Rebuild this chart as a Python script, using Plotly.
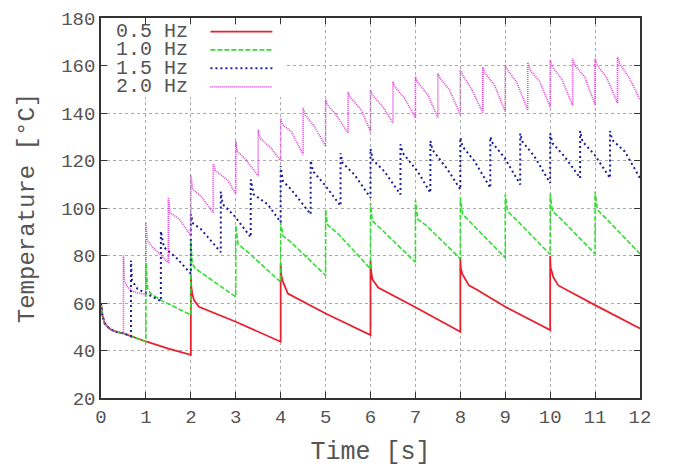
import plotly.graph_objects as go

# ---- data ----
series_names = ["0.5 Hz", "1.0 Hz", "1.5 Hz", "2.0 Hz"]

red_t = [0, 0.03, 0.08, 0.2, 0.35, 0.5, 1.0, 1.5, 2.0,
         2.0, 2.01, 2.03, 2.07, 2.18, 3.0, 4.0,
         4.0, 4.01, 4.05, 4.16, 5.0, 6.0,
         6.0, 6.01, 6.04, 6.17, 7.0, 8.0,
         8.0, 8.01, 8.04, 8.19, 8.37, 9.0, 10.0,
         10.0, 10.01, 10.07, 10.18, 11.0, 12.0]
red_T = [60, 55, 51.5, 49, 47.8, 47.2, 43.8, 40.8, 38.2,
         72, 67, 64, 61.2, 58.4, 52.1, 43.7,
         76.6, 72, 69, 64, 55.6, 46.5,
         78, 74, 70, 66.5, 58.2, 47.9,
         79.3, 75, 72.3, 67.4, 65.6, 58.4, 48.6,
         79.8, 75, 70.9, 67.4, 59.1, 49.3]

green_t = [0, 0.03, 0.08, 0.2, 0.35, 0.5, 1.0,
           1.0, 1.04, 1.1, 1.33, 2.0,
           2.0, 2.03, 2.1, 3.0,
           3.0, 3.05, 3.27, 4.0,
           4.0, 4.05, 4.23, 5.0,
           5.0, 5.04, 5.28, 6.0,
           6.0, 6.04, 6.2, 7.0,
           7.0, 7.05, 7.25, 8.0,
           8.0, 8.05, 8.23, 9.0,
           9.0, 9.05, 9.25, 10.0,
           10.0, 10.05, 10.25, 11.0,
           11.0, 11.05, 11.25, 12.0]
green_T = [60, 55, 51.5, 49, 47.8, 47.2, 43.6,
           77, 66, 64, 61.2, 55,
           86.3, 76.5, 74.5, 62.6,
           92.6, 84.9, 81.4, 68.8,
           93.9, 88.4, 85.6, 71.6,
           99.4, 93, 89.1, 74.4,
           102.2, 94.6, 91.8, 77.2,
           103.3, 95.3, 92.5, 78.6,
           104.5, 97.5, 93.9, 79,
           105.7, 98.6, 95, 80.4,
           106, 98.7, 95.2, 80.7,
           107, 99.3, 95.5, 80.7]

blue_t = [0, 0.03, 0.08, 0.2, 0.35, 0.5, 0.667,
          0.667, 0.69, 0.81, 1.03, 1.333,
          1.333, 1.40, 1.70, 2.0,
          2.0, 2.05, 2.22, 2.667,
          2.667, 2.71, 2.97, 3.333,
          3.333, 3.40, 3.71, 4.0,
          4.0, 4.05, 4.23, 4.667,
          4.667, 4.72, 4.97, 5.333,
          5.333, 5.38, 5.64, 6.0,
          6.0, 6.05, 6.31, 6.667,
          6.667, 6.72, 7.05, 7.333,
          7.333, 7.38, 7.72, 8.0,
          8.0, 8.05, 8.32, 8.667,
          8.667, 8.72, 8.99, 9.333,
          9.333, 9.38, 9.65, 10.0,
          10.0, 10.05, 10.32, 10.667,
          10.667, 10.72, 10.99, 11.333,
          11.333, 11.38, 11.66, 12.0]
blue_T = [60, 55, 51.5, 49, 47.8, 47.2, 46,
          77.9, 69.5, 66, 63.8, 60.8,
          90.2, 83.5, 78.6, 72.3,
          97.4, 93.5, 91.2, 81.4,
          106.9, 101.6, 96.7, 87.7,
          112, 105.7, 101.6, 94,
          117.6, 111.3, 107.9, 97.4,
          120, 115.4, 110, 100.9,
          123.1, 118.9, 114.1, 104.3,
          124.9, 120.3, 115.4, 105.7,
          126.8, 123.1, 115.4, 106.4,
          128.2, 124.5, 116.1, 107.8,
          129.6, 125.9, 119.6, 108.5,
          130, 127.3, 121, 109.9,
          131.4, 128, 121.7, 110.5,
          131.4, 127.3, 121.7, 112.6,
          132.4, 128, 122.4, 112.6,
          132.4, 128.7, 123.8, 112.6]

mag_t = [0, 0.03, 0.08, 0.2, 0.35, 0.5,
         0.5, 0.52, 0.59, 0.74, 1.0,
         1.0, 1.03, 1.15, 1.5,
         1.5, 1.53, 1.74, 2.0,
         2.0, 2.04, 2.22, 2.5,
         2.5, 2.54, 2.82, 3.0,
         3.0, 3.03, 3.19, 3.5,
         3.5, 3.54, 3.78, 4.0,
         4.0, 4.04, 4.23, 4.5,
         4.5, 4.54, 4.75, 5.0,
         5.0, 5.04, 5.23, 5.5,
         5.5, 5.54, 5.79, 6.0,
         6.0, 6.04, 6.27, 6.5,
         6.5, 6.54, 6.76, 7.0,
         7.0, 7.04, 7.28, 7.5,
         7.5, 7.55, 7.76, 8.0,
         8.0, 8.05, 8.24, 8.5,
         8.5, 8.55, 8.76, 9.0,
         9.0, 9.05, 9.25, 9.5,
         9.5, 9.55, 9.77, 10.0,
         10.0, 10.05, 10.25, 10.5,
         10.5, 10.55, 10.77, 11.0,
         11.0, 11.05, 11.25, 11.5,
         11.5, 11.55, 11.77, 12.0]
mag_T = [60, 55, 51.5, 49, 47.8, 47.2,
         80, 69.5, 66.7, 64.6, 63.5,
         93.9, 86.3, 83.5, 77,
         104.4, 98.1, 95.4, 88.4,
         113.9, 107.9, 105.1, 98,
         118.6, 115.9, 111.7, 106.1,
         128.1, 123.9, 121.1, 113.5,
         133, 129.5, 125.3, 120,
         137.9, 135.1, 132.3, 122.6,
         142.1, 139.3, 134.4, 126,
         145.6, 143.5, 139.3, 131.6,
         148.8, 146.9, 141.4, 132.3,
         149.7, 147.6, 142.7, 135.8,
         153.2, 151.1, 146.2, 137.9,
         155.3, 153.2, 147.6, 137.9,
         156.6, 154.6, 149.7, 139.2,
         158.1, 156, 150.4, 140.2,
         159.4, 156.7, 151.8, 140.6,
         160.4, 158.1, 153.2, 141.4,
         161.3, 158.1, 153.2, 142.5,
         162.3, 159.4, 154.5, 143.3,
         162.8, 160, 155.2, 143.5,
         162.8, 160, 155.2, 144.2,
         163.5, 160.7, 154.5, 145.6]

x_ticks = list(range(0, 13))
y_ticks = list(range(20, 181, 20))

# ---- styles ----
colors = ["#e8202e", "#33dd33", "#1e1e9a", "#e04ad8"]
dashes = ["solid", "5px,2px", "2px,3px", "1px,1px"]
widths = [1.8, 1.6, 2.0, 1.7]
FONT = "Liberation Mono, Courier New, monospace"
TXT = "#555555"

fig = go.Figure()
for name, xs, ys, c, d, w in zip(series_names,
                                  [red_t, green_t, blue_t, mag_t],
                                  [red_T, green_T, blue_T, mag_T],
                                  colors, dashes, widths):
    fig.add_trace(go.Scatter(x=xs, y=ys, mode="lines", name=name,
                             line=dict(color=c, dash=d, width=w),
                             showlegend=False))

# white box behind the in-plot legend (hides grid, keeps axis ticks)
fig.add_shape(type="rect", xref="x domain", yref="y domain",
              x0=0.013, x1=0.341, y0=0.792, y1=0.982,
              fillcolor="white", line=dict(width=0), layer="above")

legend_rows = [0.964, 0.916, 0.868, 0.819]
for name, c, d, w, yr in zip(series_names, colors, dashes, widths, legend_rows):
    fig.add_annotation(xref="x domain", yref="y domain", x=0.025, y=yr,
                       text=name, showarrow=False, xanchor="left",
                       yanchor="middle",
                       font=dict(family=FONT, size=20, color=TXT))
    fig.add_shape(type="line", xref="x domain", yref="y domain",
                  x0=0.203, x1=0.318, y0=yr, y1=yr, layer="above",
                  line=dict(color=c, dash=d, width=w))

axis_common = dict(
    showline=True, linecolor="#333333", linewidth=1.5, mirror="ticks",
    ticks="inside", ticklen=6, tickcolor="#333333", tickwidth=1,
    showgrid=True, gridcolor="#aaaaaa", griddash="dot", gridwidth=1,
    zeroline=False, automargin=False,
    tickfont=dict(family=FONT, size=19, color=TXT),
)

fig.update_xaxes(range=[0, 12], tickvals=x_ticks,
                 title=dict(text="Time [s]", font=dict(family=FONT, size=25, color=TXT),
                            standoff=14),
                 **axis_common)
fig.update_yaxes(range=[20, 180], tickvals=y_ticks,
                 title=dict(text="Temperature [°C]", font=dict(family=FONT, size=24, color=TXT),
                            standoff=20),
                 **axis_common)

fig.update_layout(
    width=673, height=468,
    margin=dict(l=101, r=33, t=18, b=70),
    plot_bgcolor="white", paper_bgcolor="white",
    showlegend=False,
)

fig.write_html("out.html", config={"displayModeBar": False},
               post_script="document.body.style.margin='0';document.body.style.overflow='hidden';")
